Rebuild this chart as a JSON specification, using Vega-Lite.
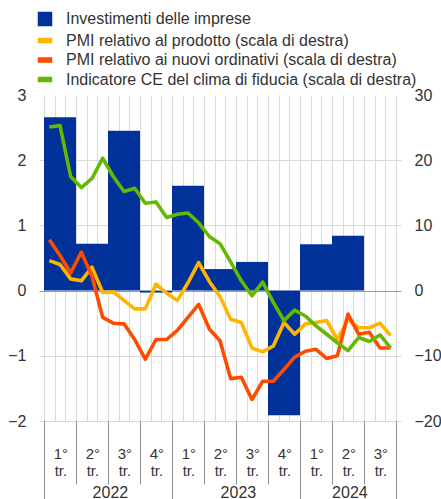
{
  "$schema": "https://vega.github.io/schema/vega-lite/v6.json",
  "autosize": "none",
  "width": 362,
  "height": 326,
  "padding": {"left": 39, "top": 95, "right": 40, "bottom": 78},
  "config": {
    "font": "Liberation Sans",
    "view": {"stroke": null},
    "axis": {"labelColor": "#333333", "labelFontSize": 16, "domain": false, "ticks": false, "labelFont": "Liberation Sans"}
  },
  "datasets": {
    "quarters": [
      {"q": "2022Q1", "start": 0, "end": 3, "value": 2.66, "series": "Investimenti delle imprese"},
      {"q": "2022Q2", "start": 3, "end": 6, "value": 0.72, "series": "Investimenti delle imprese"},
      {"q": "2022Q3", "start": 6, "end": 9, "value": 2.45, "series": "Investimenti delle imprese"},
      {"q": "2022Q4", "start": 9, "end": 12, "value": -0.03, "series": "Investimenti delle imprese"},
      {"q": "2023Q1", "start": 12, "end": 15, "value": 1.61, "series": "Investimenti delle imprese"},
      {"q": "2023Q2", "start": 15, "end": 18, "value": 0.33, "series": "Investimenti delle imprese"},
      {"q": "2023Q3", "start": 18, "end": 21, "value": 0.44, "series": "Investimenti delle imprese"},
      {"q": "2023Q4", "start": 21, "end": 24, "value": -1.91, "series": "Investimenti delle imprese"},
      {"q": "2024Q1", "start": 24, "end": 27, "value": 0.71, "series": "Investimenti delle imprese"},
      {"q": "2024Q2", "start": 27, "end": 30, "value": 0.84, "series": "Investimenti delle imprese"}
    ],
    "monthly": [
      {"m": 0.5, "series": "PMI relativo al prodotto (scala di destra)", "value": 4.6},
      {"m": 1.5, "series": "PMI relativo al prodotto (scala di destra)", "value": 4.0},
      {"m": 2.5, "series": "PMI relativo al prodotto (scala di destra)", "value": 1.8},
      {"m": 3.5, "series": "PMI relativo al prodotto (scala di destra)", "value": 1.5},
      {"m": 4.5, "series": "PMI relativo al prodotto (scala di destra)", "value": 3.6},
      {"m": 5.5, "series": "PMI relativo al prodotto (scala di destra)", "value": -0.3},
      {"m": 6.5, "series": "PMI relativo al prodotto (scala di destra)", "value": -0.2},
      {"m": 7.5, "series": "PMI relativo al prodotto (scala di destra)", "value": -1.5},
      {"m": 8.5, "series": "PMI relativo al prodotto (scala di destra)", "value": -2.8},
      {"m": 9.5, "series": "PMI relativo al prodotto (scala di destra)", "value": -2.8},
      {"m": 10.5, "series": "PMI relativo al prodotto (scala di destra)", "value": 1.0},
      {"m": 11.5, "series": "PMI relativo al prodotto (scala di destra)", "value": -0.4},
      {"m": 12.5, "series": "PMI relativo al prodotto (scala di destra)", "value": -1.5},
      {"m": 13.5, "series": "PMI relativo al prodotto (scala di destra)", "value": 1.2},
      {"m": 14.5, "series": "PMI relativo al prodotto (scala di destra)", "value": 4.3},
      {"m": 15.5, "series": "PMI relativo al prodotto (scala di destra)", "value": 1.4},
      {"m": 16.5, "series": "PMI relativo al prodotto (scala di destra)", "value": -0.9},
      {"m": 17.5, "series": "PMI relativo al prodotto (scala di destra)", "value": -4.4},
      {"m": 18.5, "series": "PMI relativo al prodotto (scala di destra)", "value": -4.9},
      {"m": 19.5, "series": "PMI relativo al prodotto (scala di destra)", "value": -8.8},
      {"m": 20.5, "series": "PMI relativo al prodotto (scala di destra)", "value": -9.4},
      {"m": 21.5, "series": "PMI relativo al prodotto (scala di destra)", "value": -8.5},
      {"m": 22.5, "series": "PMI relativo al prodotto (scala di destra)", "value": -4.9},
      {"m": 23.5, "series": "PMI relativo al prodotto (scala di destra)", "value": -6.7},
      {"m": 24.5, "series": "PMI relativo al prodotto (scala di destra)", "value": -5.1},
      {"m": 25.5, "series": "PMI relativo al prodotto (scala di destra)", "value": -4.9},
      {"m": 26.5, "series": "PMI relativo al prodotto (scala di destra)", "value": -4.6},
      {"m": 27.5, "series": "PMI relativo al prodotto (scala di destra)", "value": -7.5},
      {"m": 28.5, "series": "PMI relativo al prodotto (scala di destra)", "value": -4.4},
      {"m": 29.5, "series": "PMI relativo al prodotto (scala di destra)", "value": -5.7},
      {"m": 30.5, "series": "PMI relativo al prodotto (scala di destra)", "value": -5.7},
      {"m": 31.5, "series": "PMI relativo al prodotto (scala di destra)", "value": -5.0},
      {"m": 32.5, "series": "PMI relativo al prodotto (scala di destra)", "value": -6.9},
      {"m": 0.5, "series": "PMI relativo ai nuovi ordinativi (scala di destra)", "value": 7.8},
      {"m": 1.5, "series": "PMI relativo ai nuovi ordinativi (scala di destra)", "value": 5.4},
      {"m": 2.5, "series": "PMI relativo ai nuovi ordinativi (scala di destra)", "value": 2.7},
      {"m": 3.5, "series": "PMI relativo ai nuovi ordinativi (scala di destra)", "value": 5.9},
      {"m": 4.5, "series": "PMI relativo ai nuovi ordinativi (scala di destra)", "value": 2.2},
      {"m": 5.5, "series": "PMI relativo ai nuovi ordinativi (scala di destra)", "value": -4.1},
      {"m": 6.5, "series": "PMI relativo ai nuovi ordinativi (scala di destra)", "value": -5.0},
      {"m": 7.5, "series": "PMI relativo ai nuovi ordinativi (scala di destra)", "value": -5.1},
      {"m": 8.5, "series": "PMI relativo ai nuovi ordinativi (scala di destra)", "value": -7.5},
      {"m": 9.5, "series": "PMI relativo ai nuovi ordinativi (scala di destra)", "value": -10.5},
      {"m": 10.5, "series": "PMI relativo ai nuovi ordinativi (scala di destra)", "value": -7.5},
      {"m": 11.5, "series": "PMI relativo ai nuovi ordinativi (scala di destra)", "value": -7.5},
      {"m": 12.5, "series": "PMI relativo ai nuovi ordinativi (scala di destra)", "value": -6.1},
      {"m": 13.5, "series": "PMI relativo ai nuovi ordinativi (scala di destra)", "value": -4.1},
      {"m": 14.5, "series": "PMI relativo ai nuovi ordinativi (scala di destra)", "value": -2.1},
      {"m": 15.5, "series": "PMI relativo ai nuovi ordinativi (scala di destra)", "value": -5.9},
      {"m": 16.5, "series": "PMI relativo ai nuovi ordinativi (scala di destra)", "value": -7.7},
      {"m": 17.5, "series": "PMI relativo ai nuovi ordinativi (scala di destra)", "value": -13.5},
      {"m": 18.5, "series": "PMI relativo ai nuovi ordinativi (scala di destra)", "value": -13.3},
      {"m": 19.5, "series": "PMI relativo ai nuovi ordinativi (scala di destra)", "value": -16.7},
      {"m": 20.5, "series": "PMI relativo ai nuovi ordinativi (scala di destra)", "value": -13.9},
      {"m": 21.5, "series": "PMI relativo ai nuovi ordinativi (scala di destra)", "value": -13.9},
      {"m": 22.5, "series": "PMI relativo ai nuovi ordinativi (scala di destra)", "value": -12.1},
      {"m": 23.5, "series": "PMI relativo ai nuovi ordinativi (scala di destra)", "value": -10.2},
      {"m": 24.5, "series": "PMI relativo ai nuovi ordinativi (scala di destra)", "value": -9.3},
      {"m": 25.5, "series": "PMI relativo ai nuovi ordinativi (scala di destra)", "value": -9.0},
      {"m": 26.5, "series": "PMI relativo ai nuovi ordinativi (scala di destra)", "value": -10.4},
      {"m": 27.5, "series": "PMI relativo ai nuovi ordinativi (scala di destra)", "value": -10.0},
      {"m": 28.5, "series": "PMI relativo ai nuovi ordinativi (scala di destra)", "value": -3.6},
      {"m": 29.5, "series": "PMI relativo ai nuovi ordinativi (scala di destra)", "value": -6.7},
      {"m": 30.5, "series": "PMI relativo ai nuovi ordinativi (scala di destra)", "value": -6.4},
      {"m": 31.5, "series": "PMI relativo ai nuovi ordinativi (scala di destra)", "value": -8.8},
      {"m": 32.5, "series": "PMI relativo ai nuovi ordinativi (scala di destra)", "value": -8.8},
      {"m": 0.5, "series": "Indicatore CE del clima di fiducia (scala di destra)", "value": 25.1},
      {"m": 1.5, "series": "Indicatore CE del clima di fiducia (scala di destra)", "value": 25.3},
      {"m": 2.5, "series": "Indicatore CE del clima di fiducia (scala di destra)", "value": 17.5},
      {"m": 3.5, "series": "Indicatore CE del clima di fiducia (scala di destra)", "value": 15.8},
      {"m": 4.5, "series": "Indicatore CE del clima di fiducia (scala di destra)", "value": 17.2},
      {"m": 5.5, "series": "Indicatore CE del clima di fiducia (scala di destra)", "value": 20.3},
      {"m": 6.5, "series": "Indicatore CE del clima di fiducia (scala di destra)", "value": 17.5},
      {"m": 7.5, "series": "Indicatore CE del clima di fiducia (scala di destra)", "value": 15.2},
      {"m": 8.5, "series": "Indicatore CE del clima di fiducia (scala di destra)", "value": 15.7},
      {"m": 9.5, "series": "Indicatore CE del clima di fiducia (scala di destra)", "value": 13.4},
      {"m": 10.5, "series": "Indicatore CE del clima di fiducia (scala di destra)", "value": 13.6},
      {"m": 11.5, "series": "Indicatore CE del clima di fiducia (scala di destra)", "value": 11.2},
      {"m": 12.5, "series": "Indicatore CE del clima di fiducia (scala di destra)", "value": 11.7},
      {"m": 13.5, "series": "Indicatore CE del clima di fiducia (scala di destra)", "value": 11.9},
      {"m": 14.5, "series": "Indicatore CE del clima di fiducia (scala di destra)", "value": 10.4},
      {"m": 15.5, "series": "Indicatore CE del clima di fiducia (scala di destra)", "value": 8.3},
      {"m": 16.5, "series": "Indicatore CE del clima di fiducia (scala di destra)", "value": 7.2},
      {"m": 17.5, "series": "Indicatore CE del clima di fiducia (scala di destra)", "value": 4.4},
      {"m": 18.5, "series": "Indicatore CE del clima di fiducia (scala di destra)", "value": 1.5},
      {"m": 19.5, "series": "Indicatore CE del clima di fiducia (scala di destra)", "value": -0.8},
      {"m": 20.5, "series": "Indicatore CE del clima di fiducia (scala di destra)", "value": 1.3},
      {"m": 21.5, "series": "Indicatore CE del clima di fiducia (scala di destra)", "value": -1.8},
      {"m": 22.5, "series": "Indicatore CE del clima di fiducia (scala di destra)", "value": -4.6},
      {"m": 23.5, "series": "Indicatore CE del clima di fiducia (scala di destra)", "value": -3.0},
      {"m": 24.5, "series": "Indicatore CE del clima di fiducia (scala di destra)", "value": -3.9},
      {"m": 25.5, "series": "Indicatore CE del clima di fiducia (scala di destra)", "value": -5.4},
      {"m": 26.5, "series": "Indicatore CE del clima di fiducia (scala di destra)", "value": -6.7},
      {"m": 27.5, "series": "Indicatore CE del clima di fiducia (scala di destra)", "value": -8.0},
      {"m": 28.5, "series": "Indicatore CE del clima di fiducia (scala di destra)", "value": -9.2},
      {"m": 29.5, "series": "Indicatore CE del clima di fiducia (scala di destra)", "value": -7.2},
      {"m": 30.5, "series": "Indicatore CE del clima di fiducia (scala di destra)", "value": -7.8},
      {"m": 31.5, "series": "Indicatore CE del clima di fiducia (scala di destra)", "value": -6.8},
      {"m": 32.5, "series": "Indicatore CE del clima di fiducia (scala di destra)", "value": -8.8}
    ]
  },
  "layer": [
    {
      "data": {"name": "quarters"},
      "mark": {"type": "bar", "orient": "vertical"},
      "encoding": {
        "x": {"field": "start", "type": "quantitative", "scale": {"domain": [0, 33], "nice": false, "zero": false},
              "axis": {"orient": "bottom", "values": [0,1,2,3,4,5,6,7,8,9,10,11,12,13,14,15,16,17,18,19,20,21,22,23,24,25,26,27,28,29,30,31,32,33], "grid": true, "gridColor": "#dadada", "gridWidth": 1, "labels": false, "ticks": false, "title": null}},
        "x2": {"field": "end"},
        "y": {"field": "value", "type": "quantitative", "scale": {"domain": [-2, 3], "nice": false},
              "axis": {"orient": "left", "values": [-2, -1, 0, 1, 2, 3], "grid": true, "gridColor": {"condition": {"test": "datum.value === 0", "value": "#9b9b9b"}, "value": "#dadada"}, "gridOpacity": {"condition": {"test": "datum.value === 3", "value": 0}, "value": 1}, "labelPadding": 13, "title": null}},
        "y2": {"datum": 0},
        "color": {"field": "series", "type": "nominal",
                  "scale": {"domain": ["Investimenti delle imprese", "PMI relativo al prodotto (scala di destra)", "PMI relativo ai nuovi ordinativi (scala di destra)", "Indicatore CE del clima di fiducia (scala di destra)"], "range": ["#003299", "#ffb400", "#ff4b00", "#65b800"]},
                  "legend": {"orient": "none", "legendX": -2, "legendY": -84, "title": null, "padding": 0, "symbolSize": 169, "labelFontSize": 16, "labelColor": "#333333", "labelOffset": 13, "rowPadding": 3.5, "labelLimit": 400,
                             "encode": {"symbols": {"update": {"shape": {"signal": "datum.value === 'Investimenti delle imprese' ? 'square' : 'M-1,-0.32H1V0.32H-1Z'"}, "fill": {"scale": "color", "field": "value"}, "stroke": {"value": "transparent"}, "opacity": {"value": 1}, "fillOpacity": {"value": 1}}}}}}
      }
    },
    {
      "data": {"name": "monthly"},
      "mark": {"type": "line", "strokeWidth": 3.6, "strokeJoin": "round"},
      "encoding": {
        "x": {"field": "m", "type": "quantitative",
              "axis": {"orient": "bottom", "values": [0, 3, 6, 9, 12, 15, 18, 21, 24, 27, 30], "grid": false, "ticks": true, "tickSize": 63, "tickColor": "#8f8f8f", "tickWidth": 1, "labelOffset": 16.45, "labelPadding": -38, "labelLineHeight": 17, "labelAlign": "center", "labelFontSize": 15,
                       "labelExpr": "[((datum.value / 3) % 4 + 1) + '°', 'tr.']", "title": null}},
        "y": {"field": "value", "type": "quantitative", "scale": {"domain": [-20, 30], "nice": false},
              "axis": {"orient": "right", "values": [-20, -10, 0, 10, 20, 30], "grid": false, "labelPadding": 13, "title": null}},
        "color": {"field": "series", "type": "nominal"}
      }
    },
    {
      "data": {"name": "quarters"},
      "mark": {"type": "point", "opacity": 0},
      "encoding": {
        "x": {"field": "start", "type": "quantitative",
              "axis": {"orient": "bottom", "values": [0, 12, 24, 33], "grid": false, "ticks": true, "tickSize": 80, "tickColor": "#8f8f8f", "tickWidth": 1, "labelPadding": -17, "labelAlign": "center", "labelFontSize": 16,
                       "labelOffset": {"condition": {"test": "datum.value === 24", "value": 49.4}, "value": 65.9},
                       "labelExpr": "datum.value === 0 ? '2022' : datum.value === 12 ? '2023' : datum.value === 24 ? '2024' : ''", "title": null}}
      }
    }
  ],
  "resolve": {"scale": {"y": "independent"}, "axis": {"x": "independent"}}
}
